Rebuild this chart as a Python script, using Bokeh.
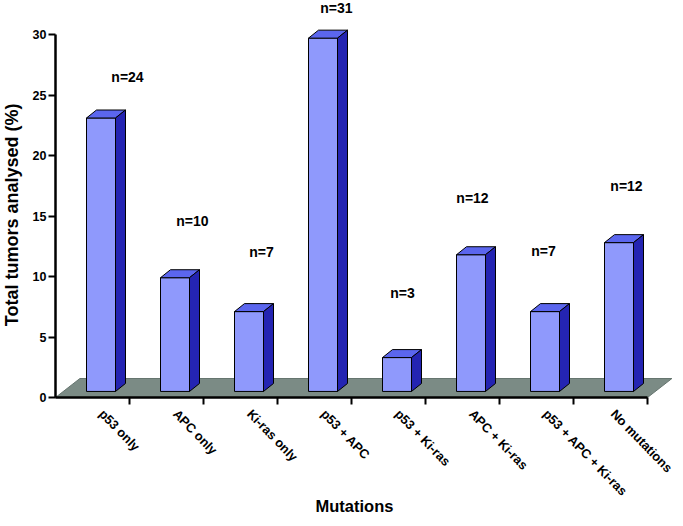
import math
from bokeh.plotting import figure
from bokeh.models import Range1d, FixedTicker, ColumnDataSource, LabelSet, Label
from bokeh.core.properties import value
from bokeh.embed import file_html
from bokeh.resources import INLINE

# ---- data ----
categories = ["p53 only", "APC only", "Ki-ras only", "p53 + APC",
              "p53 + Ki-ras", "APC + Ki-ras", "p53 + APC + Ki-ras", "No mutations"]
percent = [22.6, 9.4, 6.6, 29.2, 2.8, 11.3, 6.6, 12.3]
counts = [24, 10, 7, 31, 3, 12, 7, 12]
y_ticks = [0, 5, 10, 15, 20, 25, 30]

# ---- layout of the pseudo-3D drawing (not data) ----
base = 0.5          # bars stand a little way into the floor
face_left = 0.419   # front-face left edge within a category slot
face_w = 0.392
depth_dx, depth_dy = 0.135, 0.66
floor_dx, floor_dy = 0.33, 1.57
label_shift = 0.12  # category labels start slightly right of slot centre
label_x = [0.973, 1.851, 2.784, 3.797, 4.689, 5.635, 6.595, 7.716]
label_y = [26.5, 14.6, 12.0, 32.2, 8.6, 16.5, 12.1, 17.5]

FRONT = "#8f99fc"
TOP = "#5b66ee"
SIDE = "#2424b2"
FLOOR = "#7b8b85"
FONT = "Liberation Sans"

n = len(categories)
# frame covers the whole canvas; axes are pinned at the origin
p = figure(width=675, height=518,
           x_range=Range1d(-55 / 74, 620 / 74), y_range=Range1d(-121 / 12.1, 397 / 12.1),
           output_backend="svg", toolbar_location=None,
           min_border_left=0, min_border_right=0, min_border_top=0, min_border_bottom=0)
p.grid.visible = False
p.outline_line_color = None
p.background_fill_color = "white"
p.border_fill_color = "white"

# floor
p.patch(x=[0, n, n + floor_dx, floor_dx], y=[0, 0, floor_dy, floor_dy],
        fill_color=FLOOR, line_color="#66756f", line_width=1)

lefts = [i + face_left for i in range(n)]
rights = [l + face_w for l in lefts]
tops = [base + v for v in percent]

p.quad(left=lefts, right=rights, bottom=base, top=tops,
       fill_color=FRONT, line_color="black", line_width=1)
p.patches(xs=[[l, r, r + depth_dx, l + depth_dx] for l, r in zip(lefts, rights)],
          ys=[[t, t, t + depth_dy, t + depth_dy] for t in tops],
          fill_color=TOP, line_color="black", line_width=1)
p.patches(xs=[[r, r + depth_dx, r + depth_dx, r] for r in rights],
          ys=[[base, base + depth_dy, t + depth_dy, t] for t in tops],
          fill_color=SIDE, line_color="black", line_width=1)

src = ColumnDataSource(dict(x=label_x, y=label_y, text=["n=%d" % c for c in counts]))
p.add_layout(LabelSet(x="x", y="y", text="text", source=src, text_align="center",
                      text_baseline="middle", text_font=value(FONT), text_font_style="bold",
                      text_font_size="14px", text_color="black"))

# axes
xa = p.xaxis[0]
xa.fixed_location = 0
xa.ticker = FixedTicker(ticks=[i + 0.5 + label_shift for i in range(n)],
                        minor_ticks=[i + 1 for i in range(n)])
xa.major_label_overrides = {i + 0.5 + label_shift: c for i, c in enumerate(categories)}
xa.major_tick_line_color = None
xa.minor_tick_in = 0
xa.minor_tick_out = 7
xa.minor_tick_line_width = 2
xa.minor_tick_line_color = "black"
xa.bounds = (0, n)
xa.major_label_orientation = -0.8
xa.major_label_text_font = FONT
xa.major_label_text_font_style = "bold"
xa.major_label_text_font_size = "12.8px"
xa.major_label_standoff = 7

ya = p.yaxis[0]
ya.fixed_location = 0
ya.ticker = FixedTicker(ticks=y_ticks)
ya.bounds = (0, 30)
ya.major_tick_in = 0
ya.major_tick_out = 7
ya.major_tick_line_width = 2
ya.minor_tick_line_color = None
ya.major_label_text_font = FONT
ya.major_label_text_font_style = "bold"
ya.major_label_text_font_size = "12.5px"
ya.major_label_standoff = 2

for ax in (xa, ya):
    ax.axis_line_width = 2.5
    ax.axis_line_color = "black"
    ax.major_label_text_color = "black"

# axis titles
p.add_layout(Label(x=n / 2 + 0.04, y=-9.0, text="Mutations", text_align="center",
                   text_baseline="middle", text_font=FONT, text_font_style="bold",
                   text_font_size="16.5px", text_color="black"))
p.add_layout(Label(x=-0.59, y=15.1, text="Total tumors analysed (%)", angle=math.pi / 2,
                   text_align="center", text_baseline="middle", text_font=FONT,
                   text_font_style="bold", text_font_size="18px", text_color="black"))

open("out.html", "w").write(file_html(p, INLINE))
